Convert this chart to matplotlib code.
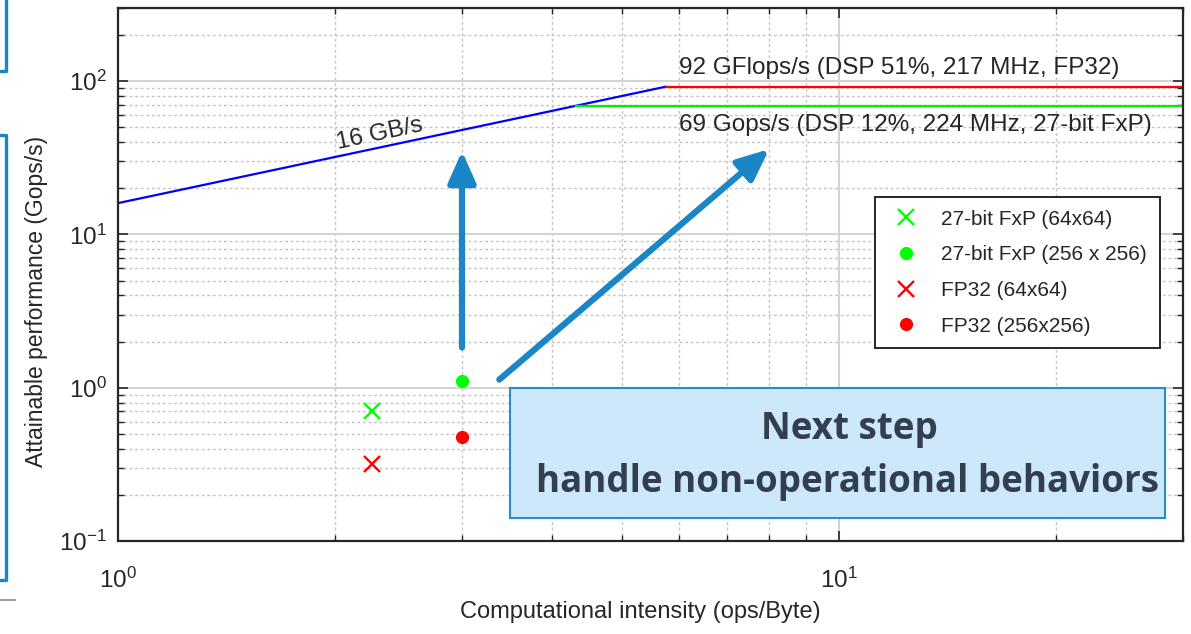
import numpy as np
import matplotlib
matplotlib.use("Agg")
import matplotlib.pyplot as plt
from matplotlib.patches import Rectangle
from matplotlib.lines import Line2D
from matplotlib.ticker import LogLocator, NullFormatter

plt.rcParams["font.family"] = ["Liberation Sans", "DejaVu Sans"]

# ── 데이터 ─────────────────────────────────────────────
bandwidth = 16          # GB/s
peak_fp32 = 92          # GFlops/s
peak_fxp = 69           # Gops/s
x_min, x_max = 1, 30

fxp64_x, fxp64_y = [2.25], [0.71]
fxp256_x, fxp256_y = [3.0], [1.1]
fp64_x, fp64_y = [2.25], [0.32]
fp256_x, fp256_y = [3.0], [0.48]

TXT = "#262626"
ARROW = "#1a86c8"
W, H = 1191, 634

fig = plt.figure(figsize=(W/100, H/100), dpi=100)
ax = fig.add_axes([118/W, 1-541/H, (1183-118)/W, (541-8)/H])

# roofline
ridge_fp32 = peak_fp32 / bandwidth
ridge_fxp = peak_fxp / bandwidth
xs = np.array([x_min, ridge_fp32])
ax.plot(xs, bandwidth * xs, color="#0000ff", lw=1.6)
ax.plot([ridge_fp32, x_max], [peak_fp32, peak_fp32], color="#ff0000", lw=1.6)
ax.plot([ridge_fxp, x_max], [peak_fxp, peak_fxp], color="#00f000", lw=1.6)

# 측정값
ax.plot(fxp64_x, fxp64_y, "x", color="#00ff00", ms=12, mew=1.7, label="27-bit FxP (64x64)")
ax.plot(fxp256_x, fxp256_y, ".", color="#00ff00", ms=17, label="27-bit FxP (256 x 256)")
ax.plot(fp64_x, fp64_y, "x", color="#ff0000", ms=12, mew=1.7, label="FP32 (64x64)")
ax.plot(fp256_x, fp256_y, ".", color="#ff0000", ms=17, label="FP32 (256x256)")

ax.set_xscale("log")
ax.set_yscale("log")
ax.set_xlim(x_min, x_max)
ax.set_ylim(0.1, 300)

ax.xaxis.set_major_locator(LogLocator(base=10, numticks=10))
ax.yaxis.set_major_locator(LogLocator(base=10, numticks=10))
ax.xaxis.set_minor_locator(LogLocator(base=10, subs=np.arange(2, 10), numticks=20))
ax.yaxis.set_minor_locator(LogLocator(base=10, subs=np.arange(2, 10), numticks=20))
ax.xaxis.set_minor_formatter(NullFormatter())
ax.yaxis.set_minor_formatter(NullFormatter())

ax.grid(which="major", color="#d4d4d4", lw=1.5, ls="-")
ax.grid(which="minor", color="#c4c4c4", lw=1.0, ls=(0, (2, 2)))
ax.set_axisbelow(True)

ax.tick_params(which="both", direction="in", top=True, right=True, colors=TXT,
               labelsize=17.5)
ax.tick_params(which="major", length=7, width=1.2)
ax.tick_params(which="minor", length=4, width=1.0)
ax.tick_params(axis="x", pad=19)
ax.tick_params(axis="y", pad=8)
for s in ax.spines.values():
    s.set_color(TXT)
    s.set_linewidth(1.6)

ax.set_xlabel("Computational intensity (ops/Byte)", fontsize=17, color=TXT)
ax.set_ylabel("Attainable performance (Gops/s)", fontsize=16.5, color=TXT)
ax.xaxis.set_label_coords(0.49, -0.112)
ax.yaxis.set_label_coords(-0.066, 0.45)

# 텍스트 라벨
ax.text(2.31, 45, "16 GB/s", rotation=12, fontsize=17.5, color=TXT,
        ha="center", va="center")
ax.text(6.0, 122, f"{peak_fp32} GFlops/s (DSP 51%, 217 MHz, FP32)",
        fontsize=17.5, color=TXT, ha="left", va="center")
ax.text(6.0, 52, f"{peak_fxp} Gops/s (DSP 12%, 224 MHz, 27-bit FxP)",
        fontsize=17.5, color=TXT, ha="left", va="center")

leg = ax.legend(loc="upper right", bbox_to_anchor=(0.978, 0.645), borderaxespad=0,
                fancybox=False, edgecolor=TXT, fontsize=15, labelspacing=0.8,
                handlelength=1.8, handletextpad=0.8, borderpad=0.6, framealpha=1)
leg.get_frame().set_linewidth(1.4)
for t in leg.get_texts():
    t.set_color(TXT)

# 화살표
arrow_kw = dict(arrowstyle="-|>,head_width=0.42,head_length=0.95", color=ARROW,
                lw=4.5, shrinkA=0, shrinkB=0, mutation_scale=20)
ax.annotate("", xy=(3.0, 35), xytext=(3.0, 1.83), arrowprops=arrow_kw)
ax.annotate("", xy=(8.0, 36), xytext=(3.38, 1.13), arrowprops=arrow_kw)

# Next step 박스
fig.add_artist(Rectangle((510/W, 1-518/H), (1165-510)/W, (518-388)/H,
                         transform=fig.transFigure, facecolor="#cde8f8",
                         edgecolor="#2a8ccc", lw=1.5, zorder=5))
fig.text(849/W, 1-429/H, "Next step", fontsize=26.5, fontweight="bold",
         family="Open Sans", color="#333f50", ha="center", va="center", zorder=6)
fig.text(847/W, 1-482/H, "handle non-operational behaviors", fontsize=26.5,
         fontweight="bold", family="Open Sans", color="#333f50",
         ha="center", va="center", zorder=6)

# 슬라이드 장식선
def fig_line(xp, yp, color, lw):
    fig.add_artist(Line2D([v/W for v in xp], [1-v/H for v in yp],
                          transform=fig.transFigure, color=color, lw=lw))

fig_line([6, 6, 0], [0, 71, 71], ARROW, 2.4)
fig_line([0, 6, 6, 0], [135, 135, 580, 580], ARROW, 2.4)
fig_line([0, 15], [600, 600], "#8090a0", 1.2)

fig.savefig("out.png", dpi=100)
